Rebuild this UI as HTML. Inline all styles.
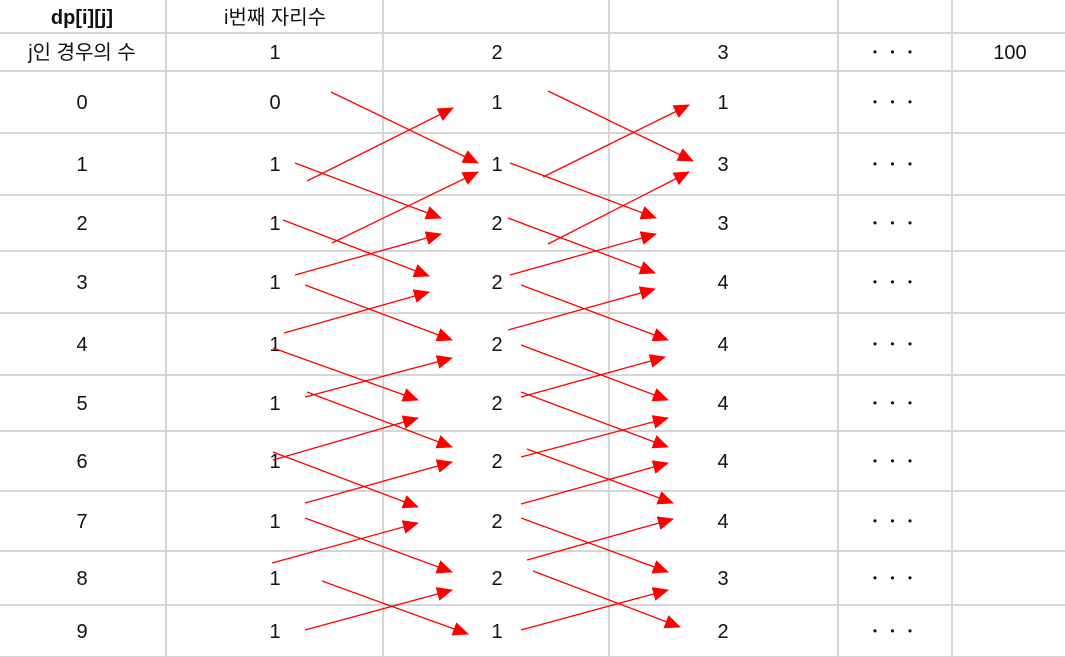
<!DOCTYPE html>
<html><head><meta charset="utf-8"><style>
body{margin:0;background:#fff;width:1065px;height:657px;overflow:hidden;font-family:"Liberation Sans","Noto Sans CJK KR",sans-serif;}
svg{display:block}
</style></head><body>
<svg id="s" width="1065" height="657"></svg>
<script>
const colLines=[166,383,609,838,952];
const rowLines=[33,71,133,195,251,313,375,431,491,551,605,657];
const colCenters=[82,275,497,723,895,1010];
const jLabels=["0","1","2","3","4","5","6","7","8","9"];
const col1=["0","1","1","1","1","1","1","1","1","1"];
const col2=["1","1","2","2","2","2","2","2","2","1"];
const col3=["1","3","3","4","4","4","4","4","3","2"];
const headerI=["1","2","3","• • •","100"];
const arrows=[
[331,92,478,163],[307,181,453,108],[295,163,441,218],[332,243,478,172],[283,220,429,276],[295,275,441,234],
[305,285,452,340],[284,333,429,292],[273,348,418,400],[305,397,452,358],[307,392,452,447],[273,460,418,418],
[273,452,418,507],[305,503,452,462],[305,518,452,572],[272,563,418,523],[322,581,468,634],[305,630,452,590],
[548,91,693,161],[543,177,689,105],[510,163,656,218],[548,244,689,172],[508,218,655,273],[510,275,656,234],
[521,285,668,340],[508,330,655,289],[521,345,668,400],[521,397,665,357],[521,392,668,447],[521,457,668,418],
[527,449,673,503],[521,504,668,463],[521,518,668,572],[527,560,673,519],[533,571,680,627],[521,630,668,590]
];
const NS="http://www.w3.org/2000/svg";
const s=document.getElementById('s');
function mk(t,a){const e=document.createElementNS(NS,t);for(const k in a)e.setAttribute(k,a[k]);s.appendChild(e);return e;}
const defs=mk('defs',{});
defs.innerHTML='<marker id="ah" markerWidth="16" markerHeight="14" refX="15" refY="7" orient="auto" markerUnits="userSpaceOnUse"><path d="M0,0 L16,7 L0,14 z" fill="#ff0000"/></marker>';
colLines.forEach(x=>{const l=mk('line',{x1:x,y1:0,x2:x,y2:657,stroke:'#d6d6d6','stroke-width':2});

});
rowLines.forEach(y=>{const l=mk('line',{x1:0,y1:y,x2:1065,y2:y,stroke:'#d6d6d6','stroke-width':2});

});
function txt(x,y,t,name,bold){
 const dots=t==="• • •";
 const e=mk('text',{x:x,y:y+7,'text-anchor':'middle','font-size':dots?12:20,fill:'#111','font-weight':bold?'bold':'normal'});
 if(dots){e.setAttribute('letter-spacing','5');e.setAttribute('y',y+4);}
 e.textContent=t;
 
 return e;}
txt(82,17,"dp[i][j]","header-dp",true);
txt(275,17,"i번째 자리수","header-i-digit");
txt(82,52,"j인 경우의 수","header-j-count");
headerI.forEach((t,i)=>txt(colCenters[i+1],52,t,"header-i-value"));
for(let r=0;r<10;r++){
 const y=(rowLines[r+1]+rowLines[r+2])/2;
 txt(colCenters[0],y,jLabels[r],"j-label");
 txt(colCenters[1],y,col1[r],"cell-i1");
 txt(colCenters[2],y,col2[r],"cell-i2");
 txt(colCenters[3],y,col3[r],"cell-i3");
 txt(colCenters[4],y,"• • •","cell-ellipsis");
}
arrows.forEach(a=>{const l=mk('line',{x1:a[0],y1:a[1],x2:a[2],y2:a[3],stroke:'#ff0000','stroke-width':1.3,'marker-end':'url(#ah)'});

});
</script>
</body></html>
